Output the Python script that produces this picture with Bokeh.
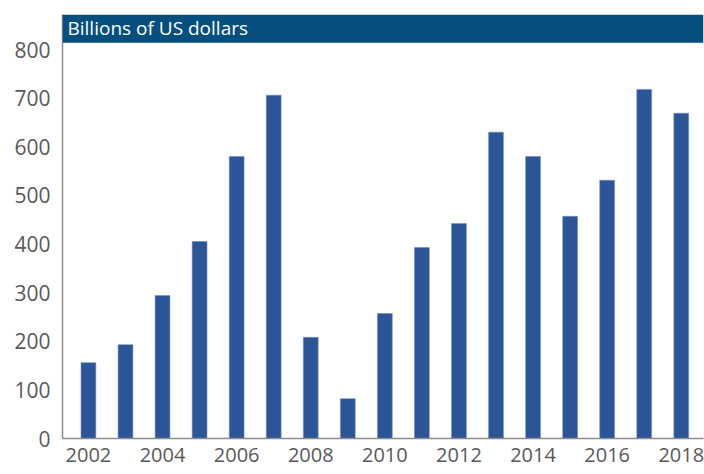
from bokeh.plotting import figure
from bokeh.models import Range1d, FixedTicker, BoxAnnotation, Label, ColumnDataSource
from bokeh.embed import file_html
from bokeh.resources import INLINE

years = list(range(2002, 2019))
values = [156, 193, 294, 405, 580, 706, 208, 82, 257, 393, 442, 630, 580, 457, 531, 718, 669]
y_ticks = [0, 100, 200, 300, 400, 500, 600, 700, 800]
x_ticks = [2002, 2004, 2006, 2008, 2010, 2012, 2014, 2016, 2018]
header_text = "Billions of US dollars"

FONT = "Open Sans"
TXT = "#595959"

p = figure(width=704, height=474, output_backend="svg", toolbar_location=None,
           x_range=Range1d(2001.3, 2018.6), y_range=Range1d(0, 872),
           min_border_left=62, min_border_right=1, min_border_top=14, min_border_bottom=36)
p.outline_line_color = None
p.xgrid.visible = False
p.ygrid.visible = False

src = ColumnDataSource(dict(x=years, top=values))
p.vbar(x="x", top="top", bottom=0, width=0.4, source=src,
       fill_color="#2b5597", line_color="#6f8fc0", line_width=0.6)

p.add_layout(BoxAnnotation(bottom=814, fill_color="#054f7e", fill_alpha=1, line_color=None))
p.add_layout(Label(x=2001.3, y=818, x_offset=5, text=header_text, text_color="white",
                   text_font=FONT, text_font_size="19px"))

for ax in (p.xaxis[0], p.yaxis[0]):
    ax.axis_line_color = "#8c8c8c"
    ax.axis_line_width = 1.5
    ax.major_tick_in = 0
    ax.major_tick_out = 0
    ax.minor_tick_in = 0
    ax.minor_tick_out = 0
    ax.major_label_text_font = FONT
    ax.major_label_text_font_size = "21px"
    ax.major_label_text_color = TXT

p.xaxis.major_label_text_font_size = "20px"
p.yaxis.ticker = FixedTicker(ticks=y_ticks)
p.xaxis.ticker = FixedTicker(ticks=x_ticks)
p.yaxis.major_label_standoff = 12
p.xaxis.major_label_standoff = 9

open("out.html", "w").write(file_html(p, INLINE))
